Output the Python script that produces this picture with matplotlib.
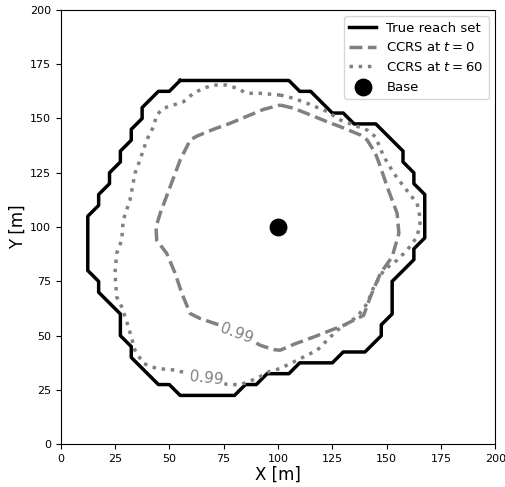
import matplotlib
matplotlib.use('Agg')
import matplotlib.pyplot as plt

# True reach set (staircase boundary)
true_x = [55, 105, 110, 115, 125, 130, 135, 145, 157.5, 157.5, 162.5, 162.5, 167.5, 167.5,
          162.5, 162.5, 152.5, 152.5, 147.5, 147.5, 140, 130, 125, 110, 105, 95, 90, 85, 80,
          55, 50, 45, 32.5, 32.5, 27.5, 27.5, 17.5, 17.5, 12.5, 12.5, 17.5, 17.5, 22.5, 22.5,
          27.5, 27.5, 32.5, 32.5, 37.5, 37.5, 45, 50, 55]
true_y = [167.5, 167.5, 162.5, 162.5, 152.5, 152.5, 147.5, 147.5, 135, 130, 125, 120, 115, 95,
          90, 85, 75, 60, 55, 50, 42.5, 42.5, 37.5, 37.5, 32.5, 32.5, 27.5, 27.5, 22.5,
          22.5, 27.5, 27.5, 40, 45, 50, 60, 70, 75, 80, 105, 110, 115, 120, 125,
          130, 135, 140, 145, 150, 155, 162.5, 162.5, 167.5]

# CCRS at t = 0 (0.99 level)
ccrs0_x = [101, 107.2, 115, 122.6, 128.7, 137.9, 141, 144.8, 147.1, 150.2, 154.8, 155.6, 152.5,
           147.1, 142.5, 139.4, 130.2, 116.4, 107.2, 101, 98, 91.8, 82.6, 73.4, 64.2, 59.6,
           55.8, 52.7, 48.8, 44.2, 43.9, 45.8, 50.4, 55, 59.6, 62.7, 70.3, 78, 93.4, 101]
ccrs0_y = [156.2, 154.7, 151.6, 148.5, 146.2, 142.4, 140.1, 134, 127.8, 118.6, 106.3, 97.1, 86.3,
           78.7, 67.9, 59.4, 54.8, 49.4, 46, 43.3, 43.6, 45.6, 51, 54.8, 57.9, 60.2,
           69.4, 78.7, 87.9, 94, 100.1, 106.3, 118.6, 130.9, 140.1, 141.9, 145, 147.8, 154.2, 156.2]

# CCRS at t = 60 (0.99 level)
ccrs60_x = [101, 107.2, 113.4, 122.6, 128.7, 134.8, 141, 144.8, 148.7, 153.3, 157.9, 164, 165.6,
            164, 159.4, 154.8, 148.7, 144.1, 141, 136.4, 127.2, 118, 108.8, 101, 96, 91.8, 87,
            82.6, 76.5, 68, 58.1, 53.5, 44.2, 38.1, 34.2, 31.2, 28.1, 25.8, 25, 25.8, 28.1,
            28.8, 31.9, 34.2, 36.5, 39.6, 42.7, 44.2, 47.3, 51.9, 56.5, 61.1, 65.7, 70.3,
            76.5, 81.1, 85.7, 91.8, 101]
ccrs60_y = [160.8, 159.3, 157, 153.2, 149.3, 147, 144.7, 141.6, 132.4, 124.7, 118.6, 110.9, 103.2,
            95.5, 89.4, 84.8, 80.2, 72.5, 64.8, 58.7, 52.5, 43.3, 38.7, 34.9, 33.5, 31.2, 29,
            27.4, 27.6, 30, 32.6, 34.1, 34.9, 37.2, 43.3, 54.1, 63.3, 67.9, 78.7, 87.9, 94,
            103.2, 112.4, 124.7, 130.9, 140.1, 146.2, 151.6, 154.7, 156.2, 157.7, 161.6, 163.9, 165.4,
            165.4, 163.9, 161.6, 161.6, 160.8]

base_x = [100]
base_y = [100]

fig = plt.figure(figsize=(5.05, 4.87), dpi=100)
ax = fig.add_axes([0.120, 0.0877, 0.861, 0.892])

ax.plot(true_x, true_y, color='black', linewidth=2.5, label='True reach set')
ax.plot(ccrs0_x, ccrs0_y, color='gray', linestyle='--', linewidth=2.5, label='CCRS at $t=0$')
ax.plot(ccrs60_x, ccrs60_y, color='gray', linestyle=':', linewidth=2.5, label='CCRS at $t=60$')
ax.scatter(base_x, base_y, color='black', s=140, zorder=5, label='Base')

# contour labels
ax.text(81, 51, '0.99', color='gray', fontsize=11, rotation=-20, ha='center', va='center',
        bbox=dict(boxstyle='square,pad=0.1', facecolor='white', edgecolor='none'))
ax.text(67, 30.5, '0.99', color='gray', fontsize=11, rotation=-6, ha='center', va='center',
        bbox=dict(boxstyle='square,pad=0.1', facecolor='white', edgecolor='none'))

ax.set_xlim(0, 200)
ax.set_ylim(0, 200)
ax.set_xticks(range(0, 201, 25))
ax.set_yticks(range(0, 201, 25))
ax.tick_params(labelsize=8)
ax.set_xlabel('X [m]', fontsize=12, labelpad=1)
ax.set_ylabel('Y [m]', fontsize=12, labelpad=2)
ax.legend(loc='upper right', fontsize=9.5)

fig.savefig('out.png', dpi=100)
